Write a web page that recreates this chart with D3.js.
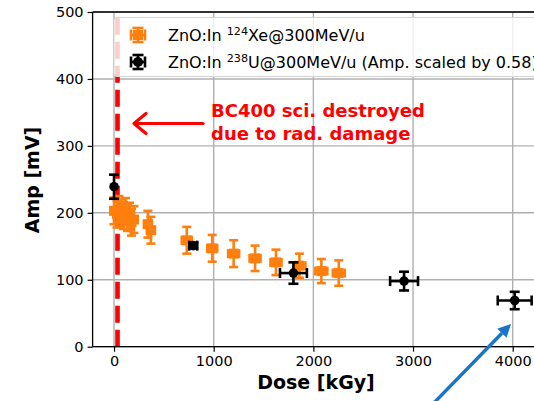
<!DOCTYPE html>
<html>
<head>
<meta charset="utf-8">
<script src="https://cdn.jsdelivr.net/npm/d3@7"></script>
<style>
  html, body { margin: 0; padding: 0; background: #fff; }
  svg { display: block; }
  text { font-family: "DejaVu Sans", sans-serif; }
</style>
</head>
<body>
<script>
// ZnO:In 124Xe @ 300 MeV/u
const xeDose = [0, 30, 50, 70, 95, 115, 135, 155, 175, 200, 340, 370, 730, 985, 1200, 1415, 1625, 1860, 2080, 2255];
const xeAmp  = [203, 198, 205, 200, 196, 202, 193, 195, 186, 190, 183, 174, 159, 147, 139, 132, 126, 121, 113, 110];
const xeAmpErr  = [20, 20, 20, 20, 20, 20, 20, 20, 20, 20, 20, 20, 20, 20, 20, 19, 19, 18, 18, 19];
const xeDoseErr = [30, 30, 30, 30, 30, 30, 30, 30, 30, 30, 40, 40, 50, 50, 55, 55, 55, 60, 60, 60];

// ZnO:In 238U @ 300 MeV/u (amplitude scaled by 0.58)
const uDose = [0, 795, 1800, 2910, 4020];
const uAmp  = [239, 151, 110, 98, 69];
const uAmpErr  = [18, 4, 16, 14, 13];
const uDoseErr = [0, 40, 135, 140, 170];

const xTicks = [0, 1000, 2000, 3000, 4000];
const yTicks = [0, 100, 200, 300, 400, 500];

// BC400 scintillator cut-off dose
const bc400Dose = 35;

const W = 534, H = 401;
const svg = d3.select("body").append("svg").attr("width", W).attr("height", H);

const x = d3.scaleLinear().domain([-215, 4300]).range([92.6, 542.6]);
const y = d3.scaleLinear().domain([0, 500]).range([346.7, 12]);

const gridColor = "#b0b0b0";

// grid
svg.append("g").selectAll("line").data(xTicks).join("line")
  .attr("x1", d => x(d)).attr("x2", d => x(d))
  .attr("y1", y(0)).attr("y2", y(500))
  .attr("stroke", gridColor).attr("stroke-width", 1.4);
svg.append("g").selectAll("line").data(yTicks).join("line")
  .attr("x1", x(-215)).attr("x2", x(4300))
  .attr("y1", d => y(d)).attr("y2", d => y(d))
  .attr("stroke", gridColor).attr("stroke-width", 1.4);

// BC400 limit
svg.append("line")
  .attr("x1", x(bc400Dose)).attr("x2", x(bc400Dose))
  .attr("y1", y(0)).attr("y2", y(495))
  .attr("stroke", "#ff0000").attr("stroke-width", 4.6)
  .attr("stroke-dasharray", "17,7");

// error bars + markers
function errorSeries(dose, amp, ampErr, doseErr, color, cap, lw) {
  const g = svg.append("g");
  const data = dose.map((d, i) => ({ d, a: amp[i], ea: ampErr[i], ed: doseErr[i] }));
  // vertical bars
  g.selectAll(".v").data(data).join("line")
    .attr("x1", p => x(p.d)).attr("x2", p => x(p.d))
    .attr("y1", p => y(p.a - p.ea)).attr("y2", p => y(p.a + p.ea))
    .attr("stroke", color).attr("stroke-width", lw);
  g.selectAll(".vc").data(data.flatMap(p => [p.a - p.ea, p.a + p.ea].map(v => ({ d: p.d, v })))).join("line")
    .attr("x1", p => x(p.d) - cap).attr("x2", p => x(p.d) + cap)
    .attr("y1", p => y(p.v)).attr("y2", p => y(p.v))
    .attr("stroke", color).attr("stroke-width", lw);
  // horizontal bars
  g.selectAll(".h").data(data.filter(p => p.ed > 0)).join("line")
    .attr("x1", p => x(p.d - p.ed)).attr("x2", p => x(p.d + p.ed))
    .attr("y1", p => y(p.a)).attr("y2", p => y(p.a))
    .attr("stroke", color).attr("stroke-width", lw);
  g.selectAll(".hc").data(data.filter(p => p.ed > 0).flatMap(p => [p.d - p.ed, p.d + p.ed].map(v => ({ v, a: p.a })))).join("line")
    .attr("x1", p => x(p.v)).attr("x2", p => x(p.v))
    .attr("y1", p => y(p.a) - cap).attr("y2", p => y(p.a) + cap)
    .attr("stroke", color).attr("stroke-width", lw);
  return { g, data };
}

const xe = errorSeries(xeDose, xeAmp, xeAmpErr, xeDoseErr, "#ff7f0e", 4.5, 2.6);
xe.g.selectAll(".m").data(xe.data).join("rect")
  .attr("x", p => x(p.d) - 5).attr("y", p => y(p.a) - 5)
  .attr("width", 10).attr("height", 10).attr("fill", "#ff7f0e");

const u = errorSeries(uDose, uAmp, uAmpErr, uDoseErr, "#000", 5, 2.6);
u.g.selectAll(".m").data(u.data).join("circle")
  .attr("cx", p => x(p.d)).attr("cy", p => y(p.a)).attr("r", 4.8).attr("fill", "#000");

// spines
svg.append("line").attr("x1", x(-215)).attr("x2", x(-215)).attr("y1", y(0)).attr("y2", y(500))
  .attr("stroke", "#000").attr("stroke-width", 1.3);
svg.append("line").attr("x1", x(-215)).attr("x2", W + 20).attr("y1", y(0)).attr("y2", y(0))
  .attr("stroke", "#000").attr("stroke-width", 1.3);
svg.append("line").attr("x1", x(-215)).attr("x2", W + 20).attr("y1", y(500)).attr("y2", y(500))
  .attr("stroke", "#000").attr("stroke-width", 1.3);

// axes
const xAxis = d3.axisBottom(x).tickValues(xTicks).tickSize(5).tickPadding(4).tickFormat(d3.format("d"));
const gx = svg.append("g").attr("transform", `translate(0,${y(0)})`).call(xAxis);
gx.select(".domain").remove();
gx.selectAll("text").attr("font-size", 14.5).attr("font-family", "DejaVu Sans").attr("fill", "#000");
gx.selectAll("line").attr("stroke-width", 1.2);

const yAxis = d3.axisLeft(y).tickValues(yTicks).tickSize(5).tickPadding(4).tickFormat(d3.format("d"));
const gy = svg.append("g").attr("transform", `translate(${x(-215)},0)`).call(yAxis);
gy.select(".domain").remove();
gy.selectAll("text").attr("font-size", 14.5).attr("font-family", "DejaVu Sans").attr("fill", "#000");
gy.selectAll("line").attr("stroke-width", 1.2);

svg.append("text").attr("x", 316).attr("y", 389).attr("text-anchor", "middle")
  .attr("font-size", 19).attr("font-weight", "bold").text("Dose [kGy]");
svg.append("text").attr("transform", "translate(38.5,180) rotate(-90)").attr("text-anchor", "middle")
  .attr("font-size", 19).attr("font-weight", "bold").text("Amp [mV]");

// legend
const lg = svg.append("g");
lg.append("rect").attr("x", 114).attr("y", 17.5).attr("width", 440).attr("height", 59).attr("rx", 3)
  .attr("fill", "#fff").attr("fill-opacity", 0.8).attr("stroke", "#d6d6d6").attr("stroke-width", 1);
const legendItems = [
  { color: "#ff7f0e", shape: "square", iso: "124", el: "Xe", tail: "@300MeV/u", yy: 35 },
  { color: "#000", shape: "circle", iso: "238", el: "U", tail: "@300MeV/u (Amp. scaled by 0.58)", yy: 62 }
];
legendItems.forEach(it => {
  const cx = 138, cy = it.yy, c = 5.5, lw = 2.6;
  lg.append("line").attr("x1", cx - 7).attr("x2", cx + 7).attr("y1", cy).attr("y2", cy).attr("stroke", it.color).attr("stroke-width", lw);
  lg.append("line").attr("x1", cx).attr("x2", cx).attr("y1", cy - 7).attr("y2", cy + 7).attr("stroke", it.color).attr("stroke-width", lw);
  [-7, 7].forEach(dx => lg.append("line").attr("x1", cx + dx).attr("x2", cx + dx).attr("y1", cy - c).attr("y2", cy + c).attr("stroke", it.color).attr("stroke-width", lw));
  [-7, 7].forEach(dy => lg.append("line").attr("x1", cx - c).attr("x2", cx + c).attr("y1", cy + dy).attr("y2", cy + dy).attr("stroke", it.color).attr("stroke-width", lw));
  if (it.shape === "square") lg.append("rect").attr("x", cx - 5).attr("y", cy - 5).attr("width", 10).attr("height", 10).attr("fill", it.color);
  else lg.append("circle").attr("cx", cx).attr("cy", cy).attr("r", 5).attr("fill", it.color);
  const t = lg.append("text").attr("x", 168).attr("y", cy + 5.5).attr("font-size", 16).attr("fill", "#000");
  t.append("tspan").text("ZnO:In ");
  t.append("tspan").attr("font-size", 11.2).attr("dy", -6).text(it.iso);
  t.append("tspan").attr("dy", 6).text(it.el + it.tail);
});

// annotation: red arrow and text
svg.append("line").attr("x1", 203).attr("x2", 135).attr("y1", 123.5).attr("y2", 123.5)
  .attr("stroke", "#ff0000").attr("stroke-width", 3.2).attr("stroke-linecap", "round");
svg.append("path").attr("d", "M146,113.5 L134,123.5 L146,133.5")
  .attr("fill", "none").attr("stroke", "#ff0000").attr("stroke-width", 3.2)
  .attr("stroke-linecap", "round").attr("stroke-linejoin", "round");
const red = svg.append("text").attr("fill", "#ff0000").attr("font-family", "Liberation Sans, Arial, sans-serif")
  .attr("font-weight", "bold").attr("font-size", 18);
red.append("tspan").attr("x", 211).attr("y", 116.5).text("BC400 sci. destroyed");
red.append("tspan").attr("x", 211).attr("y", 140).text("due to rad. damage");

// blue arrow
const bx0 = 425, by0 = 412, bx1 = 511, by1 = 324;
const ang = Math.atan2(by1 - by0, bx1 - bx0);
const hl = 13, hw = 6.5;
const baseX = bx1 - hl * Math.cos(ang), baseY = by1 - hl * Math.sin(ang);
svg.append("line").attr("x1", bx0).attr("y1", by0).attr("x2", baseX).attr("y2", baseY)
  .attr("stroke", "#1a75c8").attr("stroke-width", 3.4);
svg.append("path").attr("d",
  `M${bx1},${by1} L${baseX + hw * Math.sin(ang)},${baseY - hw * Math.cos(ang)} L${baseX - hw * Math.sin(ang)},${baseY + hw * Math.cos(ang)} Z`)
  .attr("fill", "#1a75c8");
</script>
</body>
</html>
